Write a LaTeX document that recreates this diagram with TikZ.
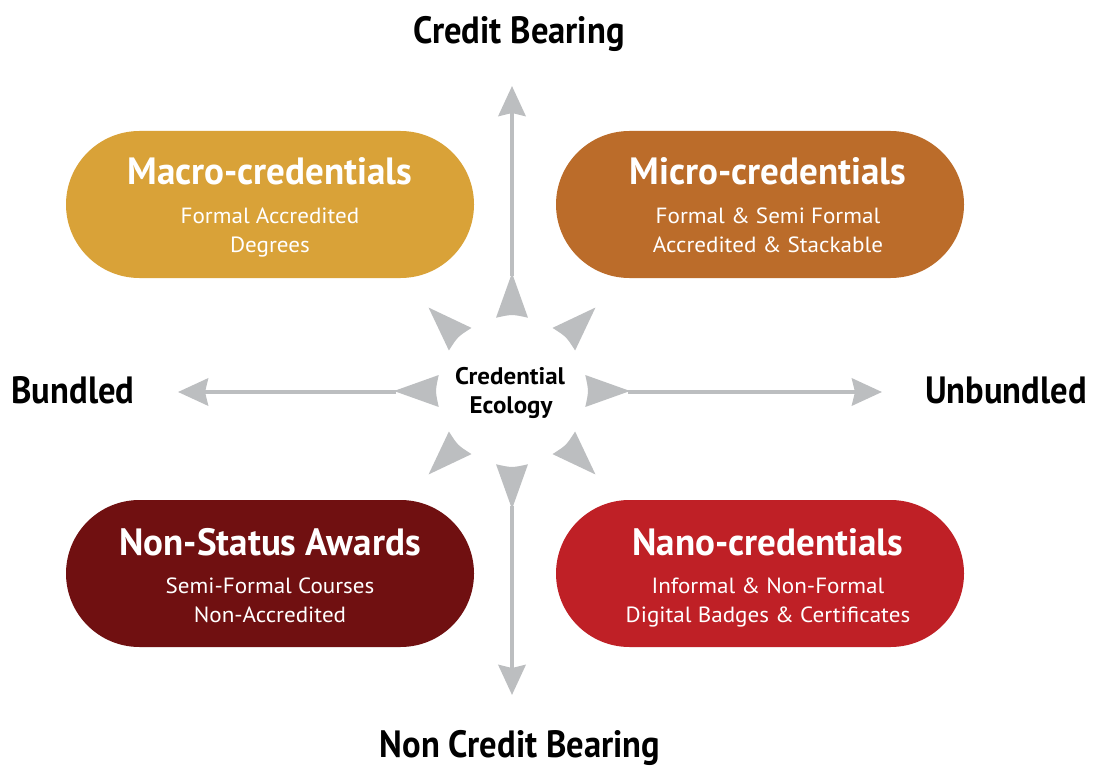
\documentclass[tikz,border=0pt]{standalone}
\usepackage{fontspec}
\usetikzlibrary{arrows.meta,shapes.misc,calc}
\newfontfamily\titlefont{PT Sans}[FakeStretch=0.975]
\newfontfamily\labelfont{PT Sans}[FakeStretch=0.91]
\newfontfamily\plainfont{PT Sans}[FakeStretch=1.05]
\newfontfamily\midfont{PT Sans}[FakeStretch=1.04]
\definecolor{macroc}{RGB}{217,162,56}
\definecolor{microc}{RGB}{187,108,42}
\definecolor{nonstc}{RGB}{112,16,17}
\definecolor{nanoc}{RGB}{191,32,38}
\definecolor{axisgray}{RGB}{188,190,192}
\begin{document}
\begin{tikzpicture}[x=1pt,y=-1pt,
  pill/.style={rounded rectangle, minimum width=408pt, minimum height=147pt, inner sep=0pt, draw=none},
  ttl/.style={anchor=base, inner sep=0pt, text=white, font=\titlefont\bfseries\fontsize{38}{38}\selectfont},
  sub/.style={anchor=base, inner sep=0pt, text=white, font=\plainfont\fontsize{22}{22}\selectfont},
  axlabel/.style={anchor=base, inner sep=0pt, text=black, font=\labelfont\bfseries\fontsize{38}{38}\selectfont},
  hubtext/.style={anchor=base, inner sep=0pt, text=black, font=\midfont\bfseries\fontsize{24}{24}\selectfont},
  axisline/.style={draw=axisgray, line width=4.5pt, -{Stealth[length=30pt,width=27pt,inset=3pt]}},
  petal/.style={fill=axisgray}]
\fill[white] (0,0) rectangle (1094,767);
\useasboundingbox (0,0) rectangle (1094,767);

% boxes
\node[pill, fill=macroc] (macro) at (270,204.5) {};
\node[pill, fill=microc] (micro) at (760,204.5) {};
\node[pill, fill=nonstc] (nonstatus) at (270,573.5) {};
\node[pill, fill=nanoc] (nano) at (760,573.5) {};

% box texts
\node[ttl] (macroT) at (270,185) {Macro-credentials};
\node[sub] (macroS1) at (270,224) {Formal Accredited};
\node[sub] (macroS2) at (270,252) {Degrees};

\node[ttl] (microT) at (768,185) {Micro-credentials};
\node[sub] (microS1) at (768,224) {Formal \& Semi Formal};
\node[sub] (microS2) at (768,252) {Accredited \& Stackable};

\node[ttl] (nonT) at (270,555) {Non-Status Awards};
\node[sub] (nonS1) at (270,593) {Semi-Formal Courses};
\node[sub] (nonS2) at (270,622) {Non-Accredited};

\node[ttl] (nanoT) at (768,555) {Nano-credentials};
\node[sub] (nanoS1) at (768,593) {Informal \& Non-Formal};
\node[sub] (nanoS2) at (768,622) {Digital Badges \& Certificates};

% axis labels
\node[axlabel] (credit) at (519,44) {Credit Bearing};
\node[axlabel] (noncredit) at (520,757.5) {Non Credit Bearing};
\node[axlabel] (bundled) at (73,403) {Bundled};
\node[axlabel] (unbundled) at (1006,403) {Unbundled};

% hub
\coordinate (hub) at (512,391);
\node[hubtext] (eco1) at (510,384) {Credential};
\node[hubtext] (eco2) at (511,413) {Ecology};

\foreach \a in {0,45,...,315} {
  \fill[petal] ($(hub)+(\a:118)$) -- ($(hub)+(\a+12.3:75)$)
     .. controls ($(hub)+(\a:76.8)$) .. ($(hub)+(\a-12.3:75)$) -- cycle;
}

% axes
\coordinate (nIn) at (512,276);
\coordinate (nTip) at (512,86);
\coordinate (sIn) at (512,506);
\coordinate (sTip) at (512,695);
\coordinate (wIn) at (396,392);
\coordinate (wTip) at (178,392);
\coordinate (eIn) at (628,392);
\coordinate (eTip) at (882,392);
\draw[axisline] (nIn) -- (nTip);
\draw[axisline] (sIn) -- (sTip);
\draw[axisline] (wIn) -- (wTip);
\draw[axisline] (eIn) -- (eTip);
\end{tikzpicture}
\end{document}
